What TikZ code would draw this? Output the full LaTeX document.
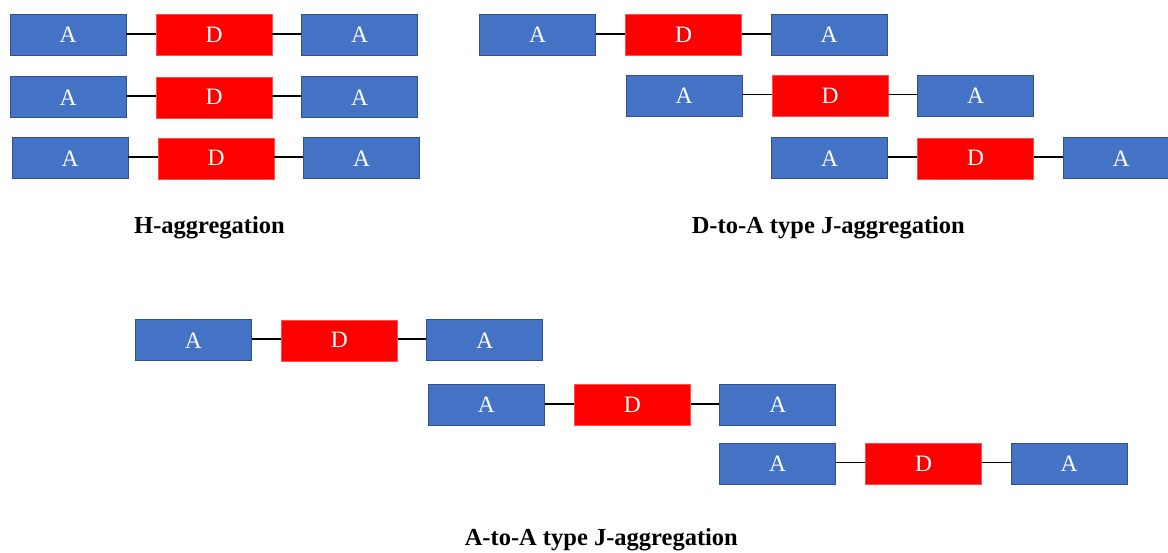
\documentclass[tikz,border=0pt]{standalone}
\usepackage{fontspec}
\setmainfont{Liberation Serif}
\definecolor{accblue}{HTML}{4472C4}
\definecolor{accedge}{HTML}{2F528F}
\definecolor{donred}{HTML}{FF0000}
\tikzset{
  unit/.style={minimum width=116pt, minimum height=41pt, inner sep=0pt,
    text=white, font=\fontsize{23.5}{23.5}\selectfont},
  acc/.style={unit, fill=accblue, draw=accedge, line width=0.8pt},
  don/.style={unit, fill=donred, draw=donred!70!white, line width=0.5pt},
  bond/.style={draw=black, line width=1.8pt},
  caption/.style={font=\bfseries\fontsize{24.5}{24.5}\selectfont, anchor=base}
}
% one A--D--A triad: #1 name prefix, (#2,#3) centre of the first box
\newcommand{\triad}[3]{%
  \node[acc] (#1a) at (#2,#3) {A};
  \node[don] (#1d) at (#2+146,#3) {D};
  \node[acc] (#1b) at (#2+291.5,#3) {A};
  \draw[bond] ([yshift=1pt]#1a.east) -- ([yshift=1pt]#1d.west);
  \draw[bond] ([yshift=1pt]#1d.east) -- ([yshift=1pt]#1b.west);
}
\begin{document}
\begin{tikzpicture}[x=1pt,y=-1pt]
  \useasboundingbox (0,0) rectangle (1168,552);
  \clip (0,0) rectangle (1168,552);
  \fill[white] (0,0) rectangle (1168,552);

  % H-aggregation
  \triad{ha}{68}{35}
  \triad{hb}{68}{97.3}
  \triad{hc}{70}{158.3}
  \node[caption] (hcap) at (209.5,233.3) {H-aggregation};

  % D-to-A type J-aggregation
  \triad{da}{537.5}{35}
  \triad{db}{684}{95.5}
  \triad{dc}{829.5}{158.3}
  \node[caption] (dcap) at (828.3,233.3) {D-to-A type J-aggregation};

  % A-to-A type J-aggregation
  \triad{aa}{193.3}{340.3}
  \triad{ab}{486.3}{405}
  \triad{ac}{777.5}{463.5}
  \node[caption] (acap) at (601.3,545.5) {A-to-A type J-aggregation};
\end{tikzpicture}
\end{document}
